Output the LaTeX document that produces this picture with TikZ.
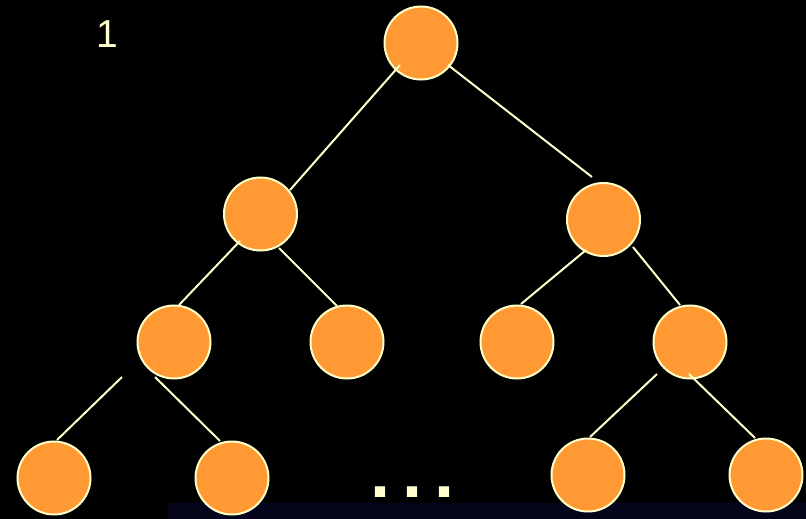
\documentclass[tikz,border=0pt]{standalone}
\usepackage{fontspec}
\setmainfont{Liberation Sans}
\begin{document}
\definecolor{nodefill}{RGB}{255,153,51}
\definecolor{pale}{RGB}{255,255,204}
\definecolor{strip}{RGB}{4,4,26}
\begin{tikzpicture}[x=1pt,y=-1pt,
  treenode/.style={circle,fill=nodefill,draw=pale,line width=2pt,minimum size=73pt,inner sep=0pt},
  edge/.style={draw=pale,line width=2pt},
  label/.style={text=pale,inner sep=0pt}]
  % background and footer band
  \fill[black] (0,0) rectangle (806,519);
  \fill[strip] (168,503) rectangle (806,519);
  \useasboundingbox (0,0) rectangle (806,519);

  % tree nodes
  \node[treenode] (root) at (421,43) {};
  \node[treenode] (a) at (260.5,214) {};
  \node[treenode] (b) at (603.5,219.5) {};
  \node[treenode] (c) at (174,342) {};
  \node[treenode] (d) at (347,342) {};
  \node[treenode] (e) at (517,342) {};
  \node[treenode] (f) at (690,342) {};
  \node[treenode] (g) at (54,478) {};
  \node[treenode] (h) at (232,478) {};
  \node[treenode] (i) at (588,475) {};
  \node[treenode] (j) at (766,475) {};

  % edges
  \draw[edge] ([shift={(-21,22)}]root.center) -- ([shift={(29.5,-24)}]a.center);
  \draw[edge] ([shift={(27,22)}]root.center) -- ([shift={(-11.5,-42.5)}]b.center);
  \draw[edge] ([shift={(-20.5,27)}]a.center) -- ([shift={(5,-37)}]c.center);
  \draw[edge] ([shift={(18.5,34)}]a.center) -- ([shift={(-10,-36)}]d.center);
  \draw[edge] ([shift={(-17.5,30.5)}]b.center) -- ([shift={(4,-38)}]e.center);
  \draw[edge] ([shift={(29.5,27.5)}]b.center) -- ([shift={(-10,-37)}]f.center);
  \draw[edge] ([shift={(-52,35)}]c.center) -- ([shift={(3,-38)}]g.center);
  \draw[edge] ([shift={(-19,35)}]c.center) -- ([shift={(-12,-37)}]h.center);
  \draw[edge] ([shift={(-33,32)}]f.center) -- ([shift={(2,-38)}]i.center);
  \draw[edge] ([shift={(-1,32)}]f.center) -- ([shift={(-11,-37)}]j.center);

  % labels
  \node[label,anchor=base west,font=\fontsize{39}{39}\selectfont] (num) at (96,48) {1};
  \node[label,anchor=base west,font=\bfseries\fontsize{72}{72}\selectfont] (dots) at (370,497) {.\kern12pt.\kern12pt.};
\end{tikzpicture}
\end{document}
